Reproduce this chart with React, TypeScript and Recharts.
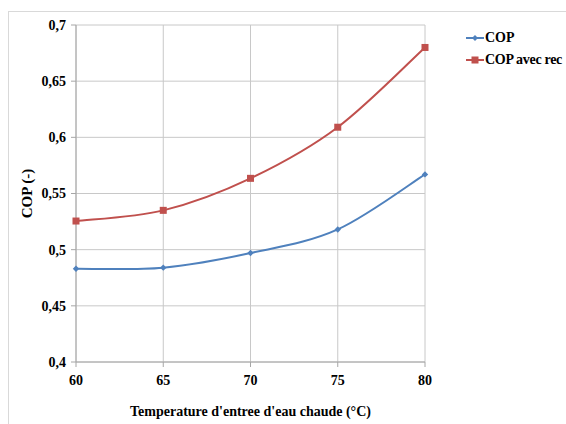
import React from "react";
import { LineChart, Line, XAxis, YAxis, CartesianGrid, Label } from "recharts";

const temperatures = [60, 65, 70, 75, 80];
const copValues = [0.483, 0.484, 0.497, 0.518, 0.567];
const copRecValues = [0.5255, 0.535, 0.5635, 0.609, 0.68];
const xTicks = [60, 65, 70, 75, 80];
const yTicks = [0.4, 0.45, 0.5, 0.55, 0.6, 0.65, 0.7];

const data = temperatures.map((t, i) => ({ t, cop: copValues[i], rec: copRecValues[i] }));

const BLUE = "#4F81BD";
const RED = "#C0504D";
const FONT = "'Liberation Serif', 'Times New Roman', serif";

const fmt = (v: number) => String(v).replace(".", ",");

// Excel-like smoothed line (Catmull-Rom based cubic Bezier)
function excelSmooth(context: any) {
  let pts: [number, number][] = [];
  return {
    areaStart() {},
    areaEnd() {},
    lineStart() {
      pts = [];
    },
    point(x: number, y: number) {
      pts.push([+x, +y]);
    },
    lineEnd() {
      if (!pts.length) return;
      context.moveTo(pts[0][0], pts[0][1]);
      const n = pts.length;
      for (let i = 0; i < n - 1; i++) {
        const p0 = pts[Math.max(i - 1, 0)];
        const p1 = pts[i];
        const p2 = pts[i + 1];
        const p3 = pts[Math.min(i + 2, n - 1)];
        const c1x = p1[0] + (p2[0] - p0[0]) / 6;
        const c1y = p1[1] + (p2[1] - p0[1]) / 6;
        const c2x = p2[0] - (p3[0] - p1[0]) / 6;
        const c2y = p2[1] - (p3[1] - p1[1]) / 6;
        context.bezierCurveTo(c1x, c1y, c2x, c2y, p2[0], p2[1]);
      }
    },
  };
}

const Diamond = (props: any) => {
  const { cx, cy } = props;
  if (cx == null || cy == null) return null;
  const r = 3.2;
  return <path d={`M${cx},${cy - r}L${cx + r},${cy}L${cx},${cy + r}L${cx - r},${cy}Z`} fill={BLUE} />;
};

const Square = (props: any) => {
  const { cx, cy } = props;
  if (cx == null || cy == null) return null;
  const r = 3.5;
  return <rect x={cx - r} y={cy - r} width={2 * r} height={2 * r} fill={RED} />;
};

const legendItems = [
  { name: "COP", color: BLUE, marker: "d" },
  { name: "COP avec rec", color: RED, marker: "s" },
];

const LegendBox = () => (
  <div
    style={{
      position: "absolute",
      left: 466,
      top: 27,
      fontFamily: FONT,
      fontWeight: "bold",
      fontSize: 14,
      color: "#000",
    }}
  >
    {legendItems.map((e) => (
      <div key={e.name} style={{ display: "flex", alignItems: "center", height: 22 }}>
        <svg width={18} height={10} style={{ marginRight: 1 }}>
          <line x1={0} y1={5} x2={18} y2={5} stroke={e.color} strokeWidth={2} />
          {e.marker === "d" ? (
            <path d="M9,2L12,5L9,8L6,5Z" fill={e.color} />
          ) : (
            <rect x={5.5} y={1.5} width={7} height={7} fill={e.color} />
          )}
        </svg>
        <span style={{ letterSpacing: e.marker === "s" ? -0.3 : 0, whiteSpace: "nowrap" }}>{e.name}</span>
      </div>
    ))}
  </div>
);

export default function App() {
  return (
    <div style={{ position: "absolute", left: 0, top: 0, width: 566, height: 424, background: "#fff", overflow: "hidden" }}>
      <div
        style={{
          position: "absolute",
          left: 8,
          top: 11,
          width: 600,
          height: 500,
          borderLeft: "1px solid #d9d9d9",
          borderTop: "1px solid #d9d9d9",
        }}
      />
      <LineChart
        width={566}
        height={424}
        data={data}
        margin={{ top: 25, right: 141, left: 16, bottom: 32 }}
        style={{ position: "absolute", left: 0, top: 0 }}
      >
        <CartesianGrid stroke="#c8c8c8" strokeWidth={1} />
        <XAxis
          dataKey="t"
          type="number"
          domain={[60, 80]}
          ticks={xTicks}
          height={30}
          stroke="#a6a6a6"
          tickSize={5}
          tickMargin={8}
          tick={{ fontFamily: FONT, fontWeight: "bold", fontSize: 14, fill: "#000" }}
        >
          <Label
            value="Temperature d'entree d'eau chaude (°C)"
            position="insideBottom"
            offset={-24}
            style={{ fontFamily: FONT, fontWeight: "bold", fontSize: 14, fill: "#000" }}
          />
        </XAxis>
        <YAxis
          type="number"
          domain={[0.4, 0.7]}
          ticks={yTicks}
          width={60}
          stroke="#a6a6a6"
          tickSize={5}
          tickMargin={5}
          tickFormatter={fmt}
          tick={{ fontFamily: FONT, fontWeight: "bold", fontSize: 14, fill: "#000" }}
        >
          <Label
            value="COP (-)"
            angle={-90}
            position="insideLeft"
            offset={11}
            style={{ fontFamily: FONT, fontWeight: "bold", fontSize: 15, fill: "#000", textAnchor: "middle" }}
          />
        </YAxis>
        <Line
          type={excelSmooth as any}
          dataKey="cop"
          stroke={BLUE}
          strokeWidth={2}
          dot={<Diamond />}
          activeDot={false}
          isAnimationActive={false}
        />
        <Line
          type={excelSmooth as any}
          dataKey="rec"
          stroke={RED}
          strokeWidth={2}
          dot={<Square />}
          activeDot={false}
          isAnimationActive={false}
        />
      </LineChart>
      <LegendBox />
    </div>
  );
}
